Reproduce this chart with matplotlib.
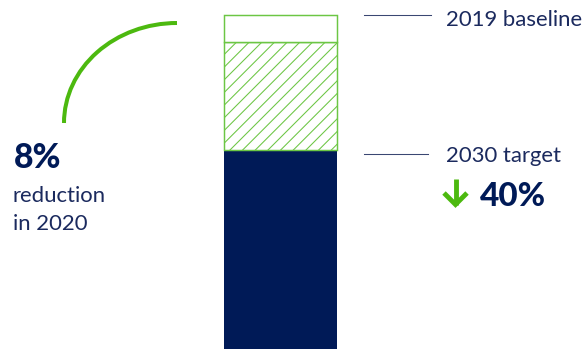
import matplotlib
matplotlib.use('Agg')
import matplotlib.pyplot as plt
from matplotlib.patches import Arc

# ---- data ----
baseline_2019 = 100      # index of 2019 emissions
level_2020 = 92          # 8% reduction in 2020
target_2030 = 60         # 40% reduction target by 2030
label_baseline = "2019 baseline"
label_target = "2030 target"
label_reduction_pct = "8%"
label_reduction_lines = ["reduction", "in 2020"]
label_target_pct = "40%"

# ---- style ----
NAVY = "#001a57"
TEXT = "#1b2a5e"
GREEN = "#4cb90f"
GREEN_LIGHT = "#6cc644"
LINE = "#3a4772"

DPI = 76
W, H = 588, 349
plt.rcParams['font.family'] = ['Lato', 'DejaVu Sans']
plt.rcParams['hatch.linewidth'] = 1.0

fig = plt.figure(figsize=(W / DPI, H / DPI), dpi=DPI)
ax = fig.add_axes([0, 0, 1, 1])
PX_PER_UNIT = 3.375
y_top = baseline_2019 + 15 / PX_PER_UNIT
y_bot = y_top - H / PX_PER_UNIT
ax.set_xlim(0, W)
ax.set_ylim(y_bot, y_top)
ax.axis('off')

def py(y):
    """top-left pixel row -> data y"""
    return y_top - y / PX_PER_UNIT

bx, bw = 280.5, 113
ax.bar(bx, target_2030, width=bw, bottom=0, color=NAVY, linewidth=0)
ax.bar(bx, level_2020 - target_2030, width=bw, bottom=target_2030,
       facecolor='white', edgecolor=GREEN_LIGHT, hatch='//', linewidth=1.4)
ax.bar(bx, baseline_2019 - level_2020, width=bw, bottom=level_2020,
       facecolor='white', edgecolor=GREEN_LIGHT, linewidth=1.4)

# connector lines
ax.plot([364, 431], [baseline_2019, baseline_2019], color=LINE, lw=1.0)
ax.plot([364, 428], [py(154), py(154)], color=LINE, lw=1.0)

fs = 21
ax.text(446, py(25.5), label_baseline, color=TEXT, fontsize=fs, va='baseline', ha='left')
ax.text(446, py(161.5), label_target, color=TEXT, fontsize=fs, va='baseline', ha='left')
ax.text(480, py(206), label_target_pct, color=NAVY, fontsize=31.5, fontweight='black',
        va='baseline', ha='left')

# green down arrow
lw_arrow = 4.6
ax.plot([455.5, 455.5], [py(179), py(205)], color=GREEN, lw=lw_arrow, solid_capstyle='butt')
ax.plot([444, 455.5, 467], [py(193), py(204.5), py(193)], color=GREEN, lw=lw_arrow,
        solid_joinstyle='miter', solid_capstyle='butt')

# left annotation
ax.text(14, py(167.5), label_reduction_pct, color=NAVY, fontsize=32, fontweight='black',
        va='baseline', ha='left')
for txt, base in zip(label_reduction_lines, [202.5, 229.5]):
    ax.text(13, py(base), txt, color=TEXT, fontsize=fs, va='baseline', ha='left')

# arc
cx, cy = 177, py(123)
arc = Arc((cx, cy), width=2 * 113, height=2 * 100 / PX_PER_UNIT, theta1=90, theta2=180,
          color=GREEN, lw=3.8)
ax.add_patch(arc)

fig.savefig('out.png', dpi=DPI)
